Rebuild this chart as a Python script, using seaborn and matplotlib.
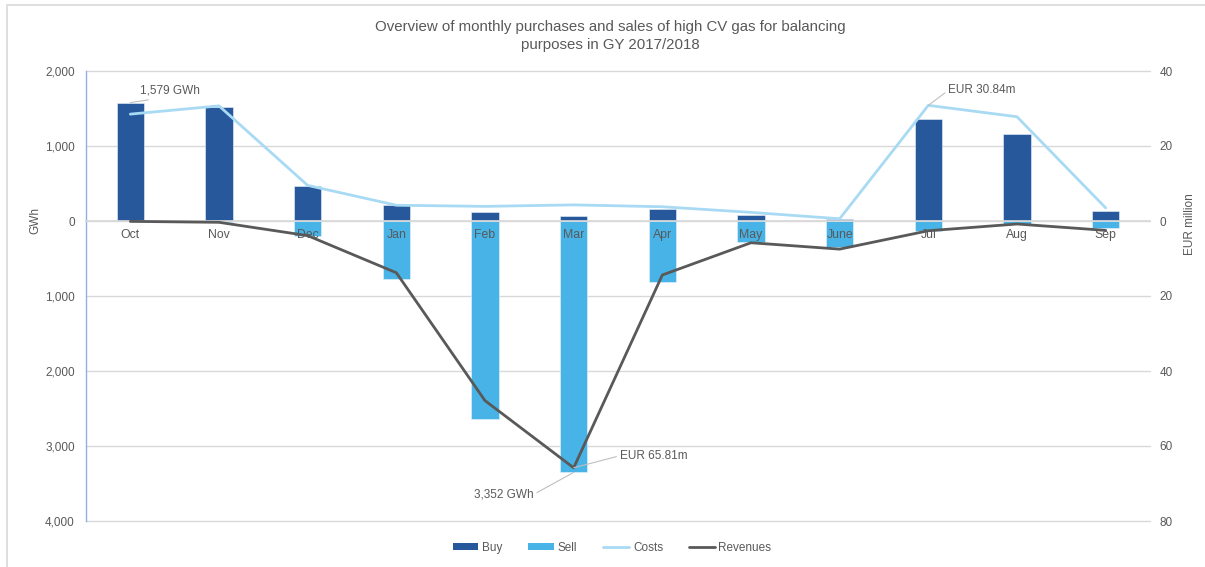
import numpy as np
import pandas as pd
import matplotlib
matplotlib.use("Agg")
import matplotlib.pyplot as plt
from matplotlib.patches import Patch, Rectangle
from matplotlib.lines import Line2D
from matplotlib.ticker import FuncFormatter, FixedLocator
import matplotlib.transforms as mtransforms
import seaborn as sns

# Monthly balancing volumes (GWh) and financials (EUR million)
months = ["Oct", "Nov", "Dec", "Jan", "Feb", "Mar", "Apr", "May", "June", "Jul", "Aug", "Sep"]
buy_gwh = [1579, 1524, 467, 213, 120, 63, 164, 84, 31, 1360, 1156, 133]
sell_gwh = [5, 15, 196, 769, 2640, 3352, 809, 284, 351, 138, 44, 89]
costs_eur = [28.5, 30.7, 9.5, 4.2, 3.9, 4.3, 3.8, 2.3, 0.6, 30.84, 27.8, 3.5]
revenues_eur = [0.1, 0.35, 3.9, 13.8, 47.9, 65.81, 14.4, 5.8, 7.5, 2.6, 0.8, 2.5]

title = "Overview of monthly purchases and sales of high CV gas for balancing\npurposes in GY 2017/2018"

BUY_C = "#26589B"
SELL_C = "#48B3E6"
COST_C = "#A9DAF4"
REV_C = "#595959"
TXT_C = "#595959"
GRID_C = "#D9D9D9"

sns.set_theme(style="white")
plt.rcParams["font.family"] = ["Liberation Sans", "DejaVu Sans"]

W, H = 1205, 567
fig = plt.figure(figsize=(W / 100, H / 100), dpi=100)
ax = fig.add_axes([86 / W, 1 - 521 / H, (1150 - 86) / W, (521 - 71) / H])

# outer chart frame
fig.patches.append(Rectangle((7 / W, -0.1), 1.2, 1 - 5 / H + 0.1, transform=fig.transFigure,
                             fill=False, edgecolor="#D9D9D9", lw=1.2, zorder=0))

bars = pd.DataFrame({
    "month": months * 2,
    "series": ["Buy"] * len(months) + ["Sell"] * len(months),
    "value": buy_gwh + [-v for v in sell_gwh],
})
sns.barplot(data=bars, x="month", y="value", hue="series", order=months,
            hue_order=["Buy", "Sell"], palette={"Buy": BUY_C, "Sell": SELL_C},
            dodge=False, width=0.31, errorbar=None, legend=False, ax=ax,
            saturation=1, edgecolor="#EAF3FB", linewidth=0.4, zorder=2)

ax.set_xlim(-0.5, len(months) - 0.5)
ax.set_ylim(-4000, 2000)
ax.yaxis.set_major_locator(FixedLocator(np.arange(-4000, 2001, 1000)))
ax.yaxis.set_major_formatter(FuncFormatter(lambda v, p: f"{abs(v):,.0f}"))
ax.grid(axis="y", color=GRID_C, lw=1, zorder=0)
for gl in ax.yaxis.get_gridlines():
    gl.set_clip_on(False)
ax.set_axisbelow(True)
ax.set_xlabel("")
ax.set_ylabel("")
for s in ["top", "right"]:
    ax.spines[s].set_visible(False)
ax.spines["left"].set_color("#8FB1DF")
ax.spines["left"].set_linewidth(1)
ax.spines["bottom"].set_position(("data", 0))
ax.spines["bottom"].set_color(GRID_C)
ax.tick_params(axis="y", length=0, pad=8, labelsize=8.5, labelcolor=TXT_C)
ax.tick_params(axis="x", length=0, labelbottom=False)

# month names sit just under the zero line, above the bars
lbl_tr = mtransforms.offset_copy(ax.transData, fig=fig, x=0, y=-14, units="dots")
for i, m in enumerate(months):
    ax.text(i, 0, m, transform=lbl_tr, ha="center", va="center", fontsize=8.8,
            color=TXT_C, zorder=4)

# secondary axis for costs and revenues
ax2 = ax.twinx()
idx = np.arange(len(months))
sns.lineplot(x=idx, y=costs_eur, ax=ax2, color=COST_C, lw=2)
sns.lineplot(x=idx, y=[-v for v in revenues_eur], ax=ax2, color=REV_C, lw=2)
ax2.set_ylim(-80, 40)
ax2.yaxis.set_major_locator(FixedLocator(np.arange(-80, 41, 20)))
ax2.yaxis.set_major_formatter(FuncFormatter(lambda v, p: f"{abs(v):.0f}"))
ax2.tick_params(axis="y", length=0, pad=7, labelsize=8.5, labelcolor=TXT_C)
ax2.grid(False)
for s in ax2.spines.values():
    s.set_visible(False)
ax2.set_xlim(-0.5, len(months) - 0.5)

# value callouts
lead = dict(arrowstyle="-", color="#BFBFBF", lw=0.8, shrinkA=0, shrinkB=0)
ax.annotate(f"{buy_gwh[0]:,} GWh", xy=(0, buy_gwh[0]), xytext=(10, 12),
            textcoords="offset pixels", ha="left", va="center", fontsize=8.5,
            color=TXT_C, arrowprops=dict(lead, relpos=(0.5, 0)))
ax.annotate(f"{sell_gwh[5]:,} GWh", xy=(5, -sell_gwh[5]), xytext=(-40, -22),
            textcoords="offset pixels", ha="right", va="center", fontsize=8.5,
            color=TXT_C, arrowprops=dict(lead, relpos=(1, 0.5)))
ax2.annotate(f"EUR {costs_eur[9]:.2f}m", xy=(9, costs_eur[9]), xytext=(20, 15),
             textcoords="offset pixels", ha="left", va="center", fontsize=8.5,
             color=TXT_C, arrowprops=dict(lead, relpos=(0, 0.5)))
ax2.annotate(f"EUR {revenues_eur[5]:.2f}m", xy=(5, -revenues_eur[5]), xytext=(46, 12),
             textcoords="offset pixels", ha="left", va="center", fontsize=8.5,
             color=TXT_C, arrowprops=dict(lead, relpos=(0, 0.5)))

fig.text(610 / W, 1 - 36 / H, title, ha="center", va="center", fontsize=10.8,
         color=TXT_C, linespacing=1.4)
fig.text(35 / W, 1 - 221 / H, "GWh", rotation=90, ha="center", va="center",
         fontsize=8.5, color=TXT_C)
fig.text(1190 / W, 1 - 224 / H, "EUR million", rotation=90, ha="center", va="center",
         fontsize=8.5, color=TXT_C)

handles = [
    Patch(facecolor=BUY_C, edgecolor="none"),
    Patch(facecolor=SELL_C, edgecolor="none"),
    Line2D([0], [0], color=COST_C, lw=2),
    Line2D([0], [0], color=REV_C, lw=2),
]
leg = fig.legend(handles, ["Buy", "Sell", "Costs", "Revenues"], ncol=4, loc="center",
                 bbox_to_anchor=(612 / W, 1 - 548 / H), frameon=False, fontsize=8.5,
                 handlelength=2.2, handleheight=0.5, handletextpad=0.3, columnspacing=2.2)
for t in leg.get_texts():
    t.set_color(TXT_C)

fig.savefig("out.png", dpi=100, facecolor="white")
